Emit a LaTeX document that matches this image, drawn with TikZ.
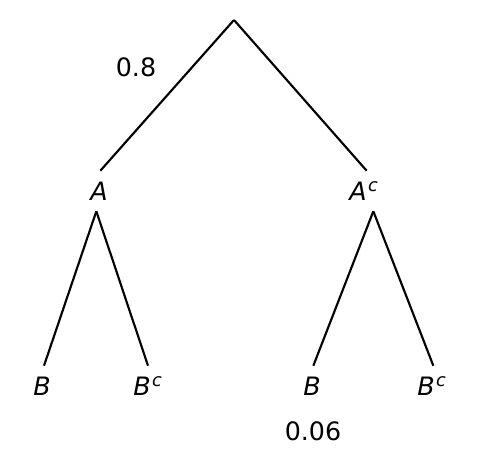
\documentclass[tikz,border=0pt]{standalone}
\usepackage{fontspec}
\setmainfont{DejaVu Sans}
\usepackage{tikz}
\usetikzlibrary{positioning,calc}

\tikzset{
  event/.style={font=\fontsize{19}{22}\selectfont\itshape, text height=14pt, text depth=0pt, inner xsep=2pt, inner ysep=8pt},
  prob/.style={font=\fontsize{19}{22}\selectfont},
  branch/.style={line width=1.6pt}
}
\newcommand{\cmpl}[1]{#1\kern1pt\textsuperscript{c}}

\begin{document}
\begin{tikzpicture}[x=0.75pt,y=-0.75pt]
\useasboundingbox (0,0) rectangle (483,474);
\coordinate (root) at (234,20); % Start
% First stage
\node[event] (A) at (99,191) {A};
\node[event] (Ac) at (364,191) {\cmpl{A}};
\draw[branch] (root) -- ([xshift=1pt]A.north);
\draw[branch] (root) -- ([xshift=2pt]Ac.north);
% Second stage
\node[event] (AB) at (42,386) {B};
\node[event] (ABc) at (148,386) {\cmpl{B}};
\node[event] (AcB) at (312,386) {B};
\node[event] (AcBc) at (432,386) {\cmpl{B}};
\draw[branch] ([xshift=-2pt]A.south) -- ([xshift=1.5pt]AB.north);
\draw[branch] ([xshift=-2pt]A.south) -- (ABc.north);
\draw[branch] ([xshift=7pt]Ac.south) -- ([xshift=1pt]AcB.north);
\draw[branch] ([xshift=7pt]Ac.south) -- ([xshift=1pt]AcBc.north);
% Probabilities
\node[prob] (pA) at (136,67) {0.8};
\node[prob] (pAcB) at (313,431) {0.06};
\end{tikzpicture}
\end{document}
